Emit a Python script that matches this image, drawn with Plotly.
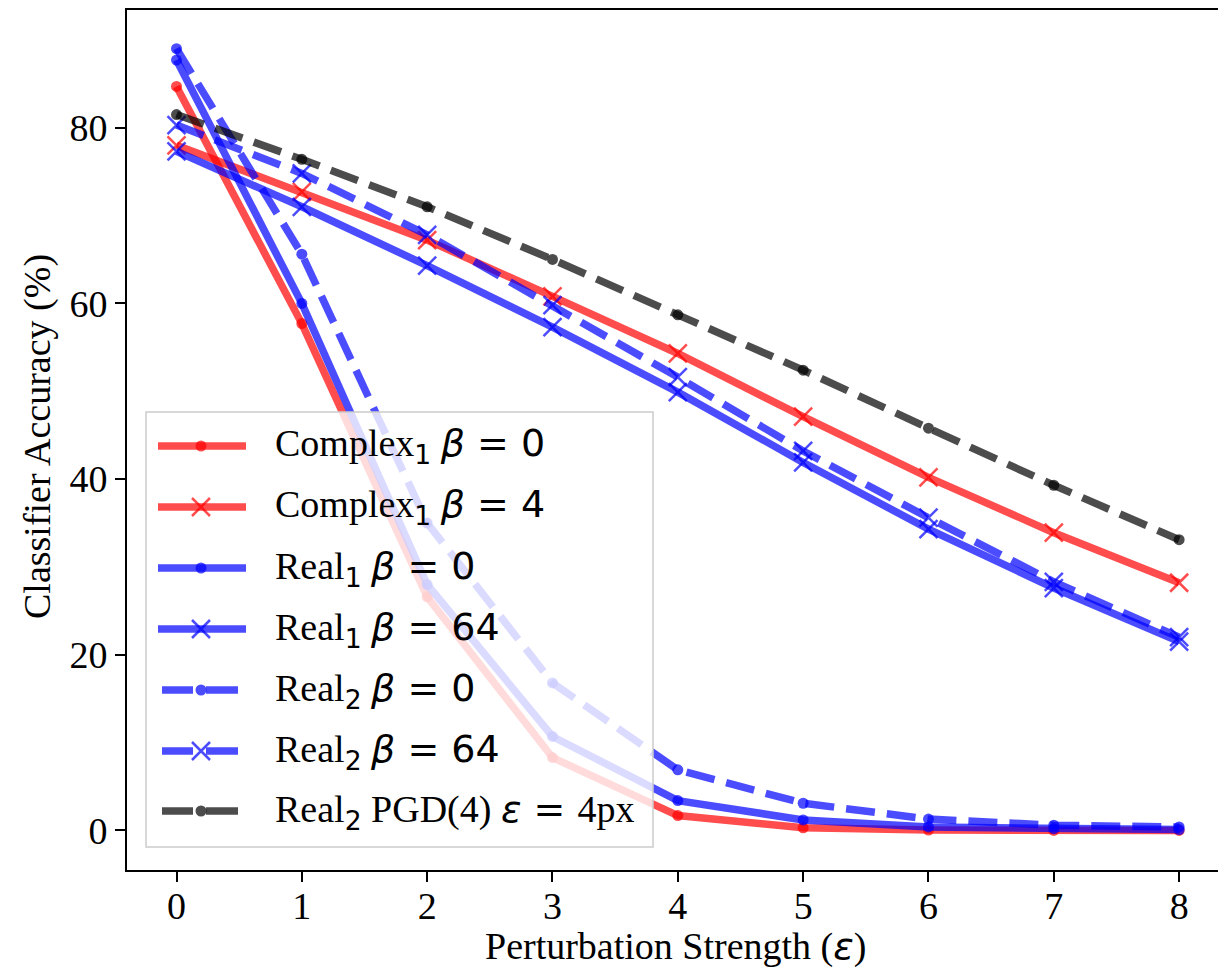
import plotly.graph_objects as go

# ---------------- data ----------------
eps = [0, 1, 2, 3, 4, 5, 6, 7, 8]
complex1_b0 = [84.7, 57.7, 26.6, 8.3, 1.7, 0.3, 0.05, 0.0, 0.0]
complex1_b4 = [78.0, 72.7, 67.2, 60.8, 54.3, 47.1, 40.2, 33.9, 28.2]
real1_b0 = [87.7, 60.0, 28.0, 10.7, 3.4, 1.2, 0.4, 0.2, 0.1]
real1_b64 = [77.3, 71.0, 64.3, 57.3, 49.9, 41.9, 34.3, 27.6, 21.5]
real2_b0 = [89.0, 65.6, 35.0, 16.8, 6.9, 3.1, 1.3, 0.6, 0.4]
real2_b64 = [80.3, 74.8, 67.8, 59.8, 51.6, 43.2, 35.6, 28.3, 22.0]
real2_pgd = [81.5, 76.4, 71.0, 65.0, 58.7, 52.4, 45.8, 39.3, 33.1]

x_ticks = [0, 1, 2, 3, 4, 5, 6, 7, 8]
y_ticks = [0, 20, 40, 60, 80]

SERIF = "Liberation Serif, Times New Roman, serif"
MATH = "DejaVu Sans"

def m(s):
    return f'<span style="font-family:{MATH}">{s}</span>'

labels = [
    "Complex<sub>" + m("1") + "</sub> " + m("<i>β</i> = 0"),
    "Complex<sub>" + m("1") + "</sub> " + m("<i>β</i> = 4"),
    "Real<sub>" + m("1") + "</sub> " + m("<i>β</i> = 0"),
    "Real<sub>" + m("1") + "</sub> " + m("<i>β</i> = 64"),
    "Real<sub>" + m("2") + "</sub> " + m("<i>β</i> = 0"),
    "Real<sub>" + m("2") + "</sub> " + m("<i>β</i> = 64"),
    "Real<sub>" + m("2") + "</sub> PGD(4) " + m("<i>ε</i> = ") + "4px",
]
x_title = "Perturbation Strength (" + m("<i>ε</i>") + ")"
y_title = "Classifier Accuracy (%)"

RED = "rgba(255,0,0,0.7)"
BLUE = "rgba(0,0,255,0.7)"
BLACK = "rgba(0,0,0,0.7)"
LW = 7.5
DASH = "29px,12px"

series = [
    (complex1_b0, RED, "solid", "dot"),
    (complex1_b4, RED, "solid", "x"),
    (real1_b0, BLUE, "solid", "dot"),
    (real1_b64, BLUE, "solid", "x"),
    (real2_b0, BLUE, DASH, "dot"),
    (real2_b64, BLUE, DASH, "x"),
    (real2_pgd, BLACK, DASH, "dot"),
]

fig = go.Figure()
for (ys, col, dash, mk), lab in zip(series, labels):
    if mk == "dot":
        marker = dict(symbol="circle", size=11, color=col, line=dict(width=0))
    else:
        marker = dict(symbol="x-thin", size=18, color=col, line=dict(width=2.5, color=col))
    fig.add_trace(go.Scatter(
        x=eps, y=ys, mode="lines+markers", name=lab,
        line=dict(color=col, width=LW, dash=dash),
        marker=marker, showlegend=False,
    ))

# ---------------- layout geometry (page pixels) ----------------
PAGE_W, PAGE_H = 1226, 976
OFF = 8  # default body margin of the html page
W, H = PAGE_W - OFF, PAGE_H - OFF
L, R, T, B = 127, 1223, 10, 870  # plot area in page pixels

def px(X):
    return (X - L) / (R - L)

def py(Y):
    return (B - Y) / (B - T)

shapes = []
annotations = []

# legend frame
shapes.append(dict(type="rect", xref="paper", yref="paper",
                   x0=px(146), x1=px(653), y0=py(847), y1=py(412),
                   fillcolor="rgba(255,255,255,0.8)",
                   line=dict(color="rgba(204,204,204,1)", width=1.5), layer="above"))

row_y = [446, 507, 568, 629, 690, 751, 811]
mx = 201
for (ys, col, dash, mk), lab, ry in zip(series, labels, row_y):
    if dash == "solid":
        segs = [(158, 246)]
    else:
        segs = [(162, 193), (206, 238)]
    for a, b in segs:
        shapes.append(dict(type="line", xref="paper", yref="paper",
                           x0=px(a), x1=px(b), y0=py(ry), y1=py(ry),
                           line=dict(color=col, width=LW), layer="above"))
    if mk == "dot":
        shapes.append(dict(type="circle", xref="paper", yref="paper",
                           xsizemode="pixel", ysizemode="pixel",
                           xanchor=px(mx), yanchor=py(ry),
                           x0=-5.5, x1=5.5, y0=-5.5, y1=5.5,
                           fillcolor=col, line=dict(width=0), layer="above"))
    else:
        shapes.append(dict(type="path", xref="paper", yref="paper",
                           xsizemode="pixel", ysizemode="pixel",
                           xanchor=px(mx), yanchor=py(ry),
                           path="M-9,-9L9,9M-9,9L9,-9",
                           line=dict(color=col, width=2.5), layer="above"))
    annotations.append(dict(xref="paper", yref="paper", x=px(273), y=py(ry),
                            xanchor="left", yanchor="middle", showarrow=False,
                            text=lab, font=dict(family=SERIF, size=38, color="black")))

# axis titles as annotations for precise placement
annotations.append(dict(xref="paper", yref="paper", x=px(675), y=py(946),
                        xanchor="center", yanchor="middle", showarrow=False,
                        text=x_title, font=dict(family=SERIF, size=38, color="black")))
annotations.append(dict(xref="paper", yref="paper", x=px(37), y=py(437),
                        xanchor="center", yanchor="middle", showarrow=False, textangle=-90,
                        text=y_title, font=dict(family=SERIF, size=38, color="black")))

axis_common = dict(
    showline=True, linecolor="black", linewidth=2, mirror=True,
    ticks="outside", ticklen=10, tickwidth=2, tickcolor="black",
    showgrid=False, zeroline=False, automargin=False,
    tickfont=dict(family=SERIF, size=38, color="black"),
)

fig.update_layout(
    width=W, height=H,
    margin=dict(l=L - OFF, r=PAGE_W - R, t=T - OFF, b=PAGE_H - B, autoexpand=False),
    paper_bgcolor="white", plot_bgcolor="white",
    shapes=shapes, annotations=annotations,
    xaxis=dict(range=[-0.395, 8.35], tickvals=x_ticks, ticktext=[str(v) for v in x_ticks],
               ticklabelstandoff=-9, **axis_common),
    yaxis=dict(range=[-4.5, 93.4], tickvals=y_ticks, ticktext=[str(v) for v in y_ticks],
               **axis_common),
)

fig.write_html("out.html")
